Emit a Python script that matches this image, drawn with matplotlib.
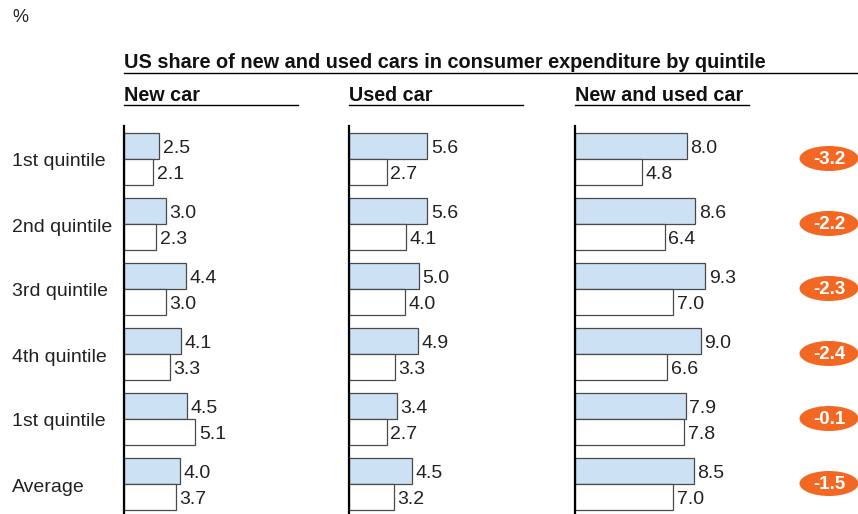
import matplotlib
matplotlib.use("Agg")
import matplotlib.pyplot as plt
from matplotlib.lines import Line2D
from matplotlib.patches import Ellipse

plt.rcParams['font.family'] = ['Liberation Sans', 'DejaVu Sans']

rows = ["1st quintile", "2nd quintile", "3rd quintile", "4th quintile",
        "1st quintile", "Average"]

new_car_a = [2.5, 3.0, 4.4, 4.1, 4.5, 4.0]
new_car_b = [2.1, 2.3, 3.0, 3.3, 5.1, 3.7]
used_car_a = [5.6, 5.6, 5.0, 4.9, 3.4, 4.5]
used_car_b = [2.7, 4.1, 4.0, 3.3, 2.7, 3.2]
both_a = [8.0, 8.6, 9.3, 9.0, 7.9, 8.5]
both_b = [4.8, 6.4, 7.0, 6.6, 7.8, 7.0]

panels = [("New car", new_car_a, new_car_b),
          ("Used car", used_car_a, used_car_b),
          ("New and used car", both_a, both_b)]

W, H = 858, 514
fig = plt.figure(figsize=(W / 100, H / 100), dpi=100)

PX = 14.0        # pixels per percentage point
PITCH = 65.0     # pixels per row
TOP = 126        # top of the axis lines
ROW0 = 158.5     # centre of the first row
panel_left = [124, 349, 575]
panel_w = 174

blue = "#cce1f4"
edge = "#4a4a4a"
orange = "#f26722"
txt = "#222222"


def fx(x):
    return x / W


def fy(y):
    return 1 - y / H


ymin = -(ROW0 - TOP) / PITCH
ymax = ymin + (H - TOP) / PITCH

for k, (name, a, b) in enumerate(panels):
    left = panel_left[k]
    ax = fig.add_axes([fx(left), 0, panel_w / W, (H - TOP) / H])
    ax.set_xlim(0, panel_w / PX)
    ax.set_ylim(ymax, ymin)
    for s in ["top", "right", "bottom"]:
        ax.spines[s].set_visible(False)
    ax.spines["left"].set_linewidth(1.6)
    ax.spines["left"].set_color("black")
    ax.set_xticks([])
    ax.set_yticks([])
    ax.patch.set_alpha(0)

    ys = range(len(a))
    ax.barh([y - 0.2 for y in ys], a, height=0.4, color=blue,
            edgecolor=edge, linewidth=0.9)
    ax.barh([y + 0.2 for y in ys], b, height=0.4, color="white",
            edgecolor=edge, linewidth=0.9)
    for y in ys:
        ax.text(a[y] + 0.25, y - 0.15, f"{a[y]:.1f}", va="center",
                ha="left", fontsize=14, color=txt)
        ax.text(b[y] + 0.25, y + 0.25, f"{b[y]:.1f}", va="center",
                ha="left", fontsize=14, color=txt)

    # column heading with underline
    fig.text(fx(left), fy(95.5), name, fontsize=14.2, fontweight="bold",
             va="center", ha="left", color="#111111")
    fig.add_artist(Line2D([fx(left), fx(left + panel_w)], [fy(105.5), fy(105.5)],
                          color="black", linewidth=1.0))

    if k == 2:
        # change badges for the combined share
        for y in ys:
            d = b[y] - a[y]
            ax.add_patch(Ellipse(((829 - left) / PX, y), 59 / PX, 25 / PITCH,
                                 facecolor=orange, edgecolor="none",
                                 clip_on=False))
            ax.text((829 - left) / PX, y + 0.02, f"{d:.1f}", ha="center",
                    va="center", fontsize=13.5, fontweight="bold",
                    color="white", clip_on=False)

for i, r in enumerate(rows):
    fig.text(fx(12), fy(ROW0 + i * PITCH + 3.5), r, fontsize=14,
             va="center", ha="left", color=txt)

fig.text(fx(12), fy(18), "%", fontsize=13, va="center", ha="left",
         color=txt)

fig.text(fx(124), fy(62), "US share of new and used cars in consumer expenditure by quintile",
         fontsize=14.3, fontweight="bold", va="center", ha="left", color="#111111")
fig.add_artist(Line2D([fx(124), 1], [fy(73.5), fy(73.5)], color="black",
                      linewidth=1.0))

fig.savefig("out.png", dpi=100)
